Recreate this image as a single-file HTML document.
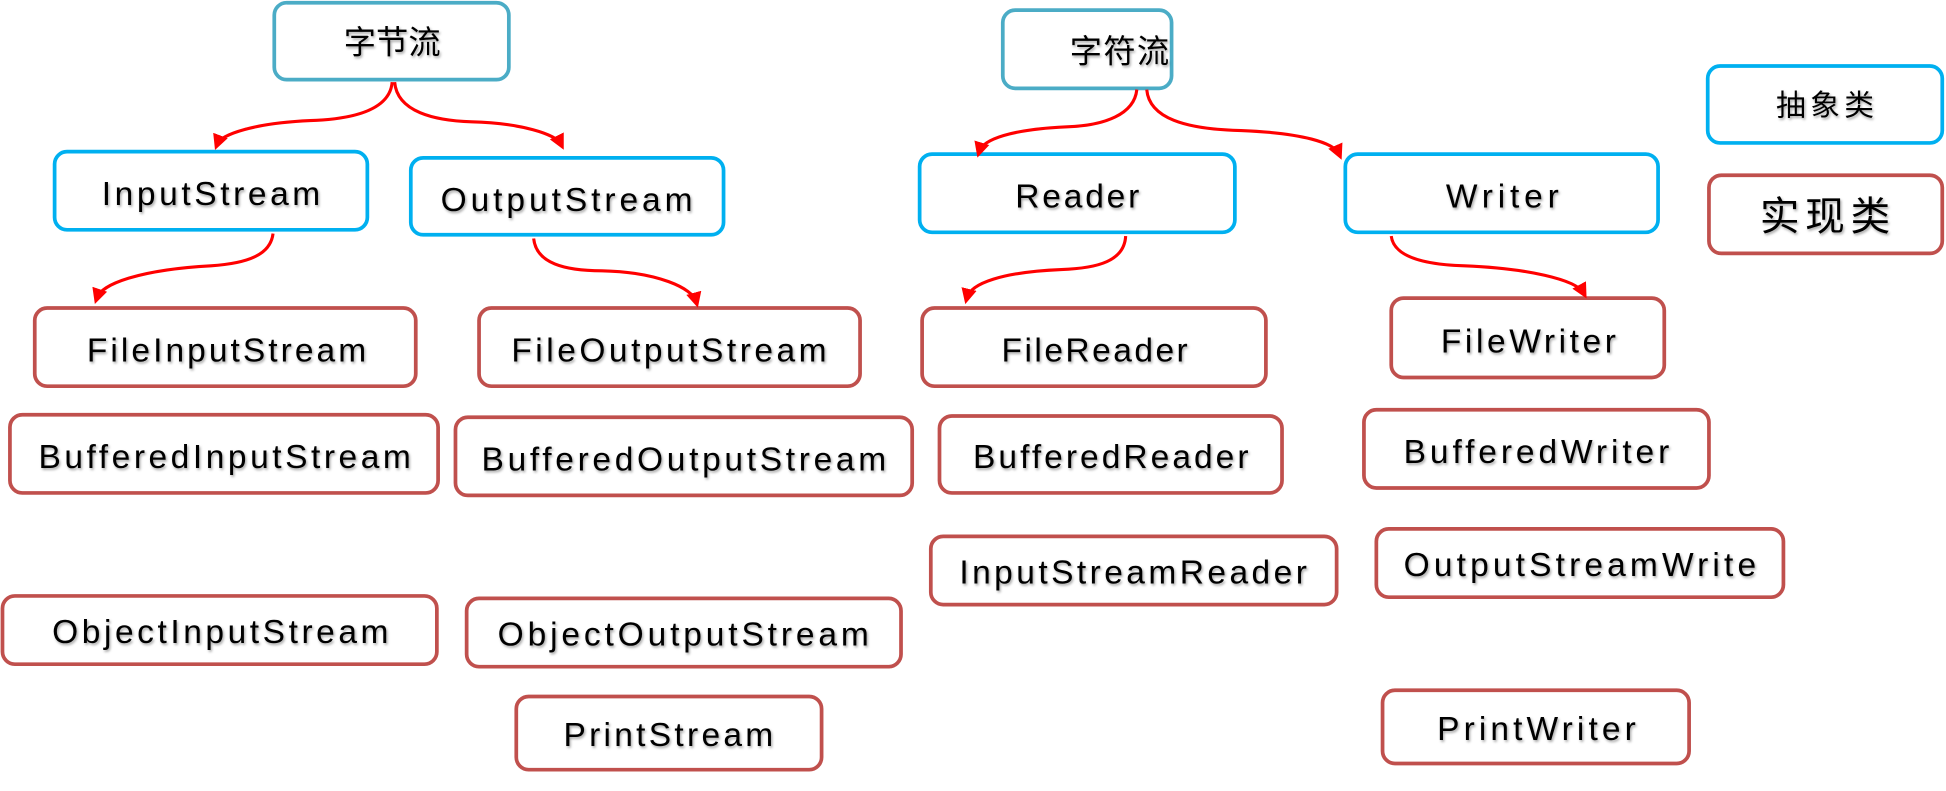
<!DOCTYPE html>
<html><head><meta charset="utf-8"><style>
html,body{margin:0;padding:0;background:#fff;}
svg{display:block;}
text{font-family:"Liberation Sans","Noto Sans CJK SC",sans-serif;fill:#000;}
</style></head><body>
<svg width="1946" height="791" viewBox="0 0 1568 637" xmlns="http://www.w3.org/2000/svg">
<defs>
<marker id="a" markerWidth="6" markerHeight="6" refX="3" refY="3" orient="auto" markerUnits="strokeWidth"><path d="M0,0.5 L5,3 L0,5.5 Z" fill="#ff0000"/></marker>
<filter id="s" x="-5%" y="-20%" width="110%" height="140%"><feDropShadow dx="1" dy="1.5" stdDeviation="1" flood-color="#000" flood-opacity="0.35"/></filter>
</defs>
<g fill="#fff" stroke-width="3">
<rect x="221" y="2" width="189" height="62" rx="10" stroke="#4bacc6"/>
<rect x="808" y="8" width="136" height="63" rx="10" stroke="#4bacc6"/>
<g stroke="#00b0f0">
<rect x="44" y="122" width="252" height="63" rx="10"/>
<rect x="331" y="127" width="252" height="62" rx="10"/>
<rect x="741" y="124" width="254" height="63" rx="10"/>
<rect x="1084" y="124" width="252" height="63" rx="10"/>
<rect x="1376" y="53" width="189" height="62" rx="10"/>
</g>
<g stroke="#c0504d">
<rect x="28" y="248" width="307" height="63" rx="10"/>
<rect x="386" y="248" width="307" height="63" rx="10"/>
<rect x="8" y="334" width="345" height="63" rx="10"/>
<rect x="367" y="336" width="368" height="63" rx="10"/>
<rect x="2" y="480" width="350" height="55" rx="10"/>
<rect x="376" y="482" width="350" height="55" rx="10"/>
<rect x="416" y="561" width="246" height="59" rx="10"/>
<rect x="743" y="248" width="277" height="63" rx="10"/>
<rect x="1121" y="240" width="220" height="64" rx="10"/>
<rect x="757" y="335" width="276" height="62" rx="10"/>
<rect x="1099" y="330" width="278" height="63" rx="10"/>
<rect x="750" y="432" width="327" height="55" rx="10"/>
<rect x="1109" y="426" width="328" height="55" rx="10"/>
<rect x="1114" y="556" width="247" height="59" rx="10"/>
<rect x="1377" y="141" width="188" height="63" rx="10"/>
</g>
</g>
<g fill="none" stroke="#ff0000" stroke-width="2.5" marker-end="url(#a)">
<path d="M316,66 C314,90 280,96 250,97 C205,99 178,108 175,116"/>
<path d="M318,66 C320,90 350,97 380,98 C420,99 448,108 452,116"/>
<path d="M220,188 C218,205 200,212 170,214 C115,217 82,228 78,240"/>
<path d="M430,192 C432,212 455,218 485,218 C530,219 558,232 561,243"/>
<path d="M916,72 C914,92 890,101 860,102 C815,104 792,112 789,122"/>
<path d="M924,72 C926,95 955,104 1000,105 C1050,107 1075,115 1079,124"/>
<path d="M907,190 C906,210 885,216 855,217 C808,219 782,228 779,240"/>
<path d="M1121,190 C1123,206 1145,213 1180,214 C1230,216 1270,225 1276,236"/>
</g>
<g filter="url(#s)" font-size="27">
<text x="277" y="43" textLength="78" font-size="26">字节流</text>
<text x="862" y="50" textLength="80" font-size="26">字符流</text>
<text x="1431" y="93" textLength="79" font-size="24">抽象类</text>
<text x="1418" y="185" textLength="105" font-size="32">实现类</text>
<text x="82" y="165" textLength="176">InputStream</text>
<text x="355" y="170" textLength="203">OutputStream</text>
<text x="818" y="167" textLength="100">Reader</text>
<text x="1165" y="167" textLength="91">Writer</text>
<text x="70" y="291" textLength="225">FileInputStream</text>
<text x="412" y="291" textLength="254">FileOutputStream</text>
<text x="31" y="377" textLength="300">BufferedInputStream</text>
<text x="388" y="379" textLength="326">BufferedOutputStream</text>
<text x="42" y="518" textLength="271">ObjectInputStream</text>
<text x="401" y="520" textLength="299">ObjectOutputStream</text>
<text x="454" y="601" textLength="169">PrintStream</text>
<text x="807" y="291" textLength="150">FileReader</text>
<text x="1161" y="284" textLength="141">FileWriter</text>
<text x="784" y="377" textLength="222">BufferedReader</text>
<text x="1131" y="373" textLength="214">BufferedWriter</text>
<text x="773" y="470" textLength="280">InputStreamReader</text>
<text x="1131" y="464" textLength="284">OutputStreamWrite</text>
<text x="1158" y="596" textLength="160">PrintWriter</text>
</g>
</svg>
</body></html>
